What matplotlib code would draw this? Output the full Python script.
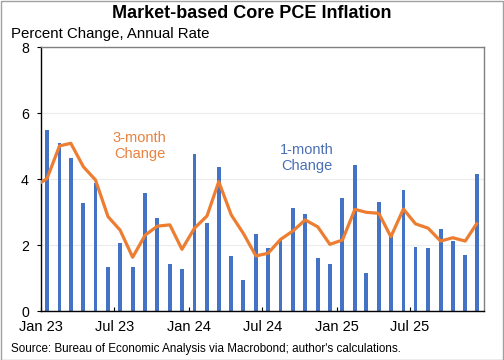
import matplotlib
matplotlib.use("Agg")
import matplotlib.pyplot as plt
import matplotlib.dates as mdates
import matplotlib.patches as mpatches
import pandas as pd
import numpy as np

plt.rcParams['font.family'] = ['Liberation Sans', 'DejaVu Sans']

# Monthly data, Jan 2023 - Dec 2025
months = pd.date_range('2023-01-01', periods=36, freq='MS') + pd.Timedelta(days=14)
one_month = [5.49, 5.09, 4.65, 3.29, 3.90, 1.35, 2.06, 1.33, 3.58, 2.83, 1.44, 1.27,
             4.78, 2.69, 4.37, 1.68, 0.95, 2.33, 1.92, 2.15, 3.12, 2.96, 1.62, 1.42,
             3.42, 4.43, 1.15, 3.32, 2.30, 3.68, 1.94, 1.93, 2.48, 2.14, 1.70, 4.17]
# 3-month change, starting Dec 2022 (first point clipped at the left edge)
line_months = pd.date_range('2022-12-01', periods=37, freq='MS') + pd.Timedelta(days=14)
three_month = [3.78,
               4.02, 5.01, 5.09, 4.38, 3.98, 2.87, 2.46, 1.64, 2.31, 2.58, 2.62, 1.88,
               2.52, 2.89, 3.93, 2.92, 2.36, 1.68, 1.76, 2.18, 2.44, 2.77, 2.56, 2.03,
               2.16, 3.09, 3.00, 2.97, 2.26, 3.10, 2.65, 2.52, 2.13, 2.23, 2.13, 2.69]
tick_labels = ['Jan 23', 'Jul 23', 'Jan 24', 'Jul 24', 'Jan 25', 'Jul 25']

bar_color = '#4472C4'
line_color = '#ED7D31'

fig = plt.figure(figsize=(5.04, 3.6), dpi=100)
ax = fig.add_axes([0.082, 0.135, 0.878, 0.734])

ax.bar(months, one_month, width=9.5, color=bar_color, zorder=2)
ax.plot(line_months, three_month, color=line_color, lw=2.3, zorder=3,
        solid_joinstyle='round', solid_capstyle='butt')

ax.set_xlim(pd.Timestamp('2023-01-01'), pd.Timestamp('2025-12-31'))
ax.set_ylim(0, 8)
ax.set_yticks([0, 2, 4, 6, 8])
ax.set_yticklabels(['0', '2', '4', '6', '8'], fontsize=10.2)
tick_dates = pd.date_range('2023-01-01', periods=6, freq='6MS')
ax.set_xticks(tick_dates)
ax.set_xticklabels(tick_labels, fontsize=10.5)
ax.tick_params(axis='x', direction='in', length=3, width=0.8, pad=6)
ax.tick_params(axis='y', direction='out', length=3, width=0.8, pad=6)

ax.grid(axis='y', color='#ececec', lw=0.8, zorder=0)
ax.set_axisbelow(True)
for side in ['left', 'bottom']:
    ax.spines[side].set_color('black')
    ax.spines[side].set_linewidth(1.0)
for side in ['top', 'right']:
    ax.spines[side].set_color('#808080')
    ax.spines[side].set_linewidth(1.0)

ax.text(pd.Timestamp('2023-09-01'), 5.0, '3-month\nChange', color='#E8823E',
        fontsize=10.5, ha='center', va='center', linespacing=1.15)
ax.text(pd.Timestamp('2024-10-20'), 4.65, '1-month\nChange', color='#4A6FB5',
        fontsize=10.5, ha='center', va='center', linespacing=1.15)

fig.text(0.5, 0.962, 'Market-based Core PCE Inflation', ha='center', va='center',
         fontsize=13, fontweight='bold')
fig.text(0.022, 0.906, 'Percent Change, Annual Rate', ha='left', va='center',
         fontsize=10.8)
fig.text(0.022, 0.03, "Source: Bureau of Economic Analysis via Macrobond; author's calculations.",
         ha='left', va='center', fontsize=8.35)

fig.patches.append(mpatches.Rectangle((0.001, 0.001), 0.997, 0.997, transform=fig.transFigure,
                                      fill=False, edgecolor='#a0a0a0', lw=1.0))

fig.savefig('out.png', dpi=100)
